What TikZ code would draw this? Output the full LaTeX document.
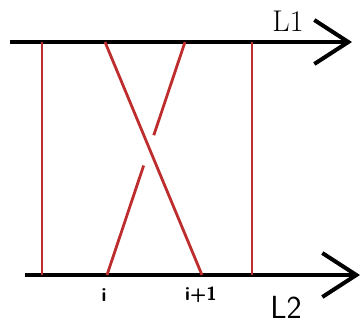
\documentclass[tikz,border=0pt]{standalone}
\usepackage{tikz}
\usetikzlibrary{arrows.meta,calc}
\definecolor{linkred}{RGB}{190,45,45}

\begin{document}
\begin{tikzpicture}[
  x=1pt, y=-1pt,
  >={Straight Barb[length=34pt, width=44pt, line width=4pt]},
  rail/.style={->, line width=4pt, draw=black},
  rung/.style={line width=2.8pt, draw=linkred},
  tag/.style={font=\sffamily\bfseries\fontsize{19}{19}\selectfont, inner sep=0pt},
  lab/.style={inner sep=0pt},
]
\useasboundingbox (0,0) rectangle (362,325);

% rails
\coordinate (l1s) at (10,42);
\coordinate (l1e) at (352,42);
\coordinate (l2s) at (25,275);
\coordinate (l2e) at (360,275);
\draw[rail] (l1s) -- (l1e);
\draw[rail] (l2s) -- (l2e);
\node[lab, font=\fontsize{30}{30}\selectfont] (L1) at (288,21) {L1};
\node[lab, font=\sffamily\fontsize{32}{32}\selectfont] (L2) at (286,307) {L2};

% end points of the links
\coordinate (a1) at (42,42);  \coordinate (a2) at (42,275);
\coordinate (b1) at (105,42); \coordinate (b2) at (202,275);
\coordinate (c1) at (185,42); \coordinate (c2) at (107,275);
\coordinate (d1) at (252,42); \coordinate (d2) at (252,275);

\draw[rung] (a1) -- (a2);
\draw[rung] (d1) -- (d2);
\draw[rung] (b1) -- (b2);
\draw[rung] (c1) -- ($(c1)!0.40!(c2)$);
\draw[rung] ($(c1)!0.53!(c2)$) -- (c2);

\node[tag] (i)  at (104,295) {i};
\node[tag] (ip) at (201,295) {i+1};

\end{tikzpicture}
\end{document}
